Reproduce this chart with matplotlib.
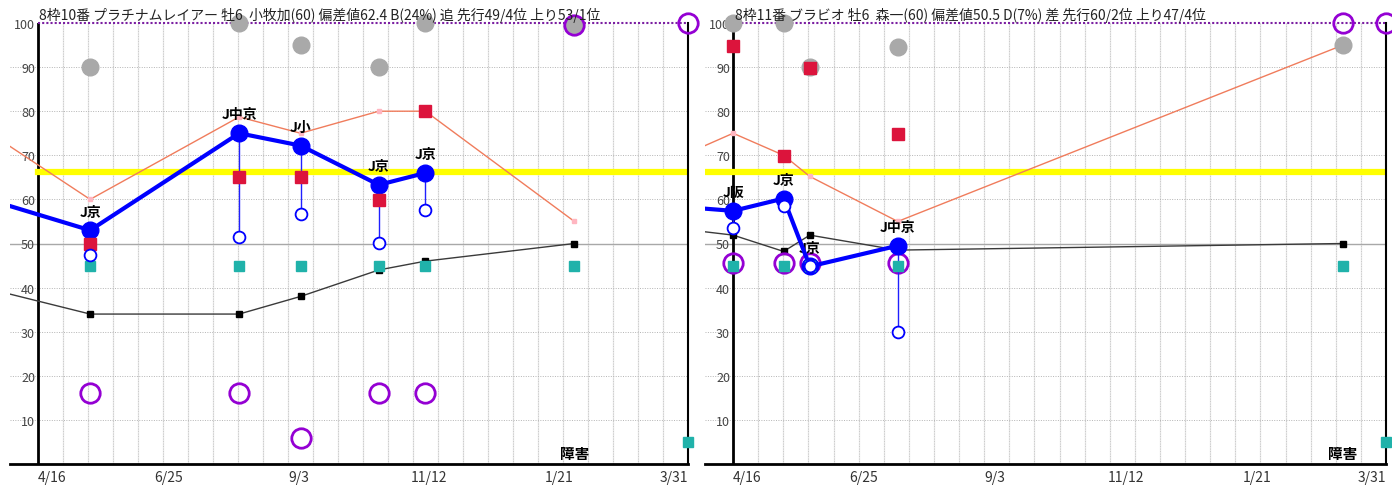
import numpy as np
import pandas as pd
import matplotlib
matplotlib.use('Agg')
import matplotlib.pyplot as plt

plt.rcParams['font.family'] = ['Noto Sans CJK JP', 'DejaVu Sans']

# axis range and ticks
start_date = '2022-04-16'
end_date = '2023-03-31'
tick_dates = ['2022-04-16', '2022-06-25', '2022-09-03', '2022-11-12', '2023-01-21', '2023-03-31']
tick_labels = ['4/16', '6/25', '9/3', '11/12', '1/21', '3/31']
y_ticks = [10, 20, 30, 40, 50, 60, 70, 80, 90, 100]
target_level = 66.3
rest_label = '障害'

# left horse
left_title = '8枠10番 プラチナムレイアー 牡6  小牧加(60) 偏差値62.4 B(24%) 追 先行49/4位 上り53/1位'
left_dates = ['2022-03-17', '2022-05-14', '2022-08-02', '2022-09-04', '2022-10-16',
              '2022-11-10', '2023-01-29', '2023-03-31']
left_course = ['', 'J京', 'J中京', 'J小', 'J京', 'J京', '', '']
left_index = [60.4, 53, 75, 72.2, 63.3, 66, np.nan, np.nan]
left_low = [np.nan, 47.5, 51.4, 56.6, 50.2, 57.5, np.nan, np.nan]
left_red = [np.nan, 50, 65, 65, 59.8, 80, np.nan, np.nan]
left_teal = [np.nan, 45, 45, 45, 45, 45, 45, 5]
left_black = [40.1, 34, 34, 38, 44, 46, 50, np.nan]
left_salmon = [76.2, 60, 78.7, 75, 80, 80, 55, np.nan]
left_purple = [np.nan, 16, 16, 6, 16, 16, 99.5, 100]
left_gray = [np.nan, 90, 100, 95, 90, 100, 99.5, np.nan]
left_rest = '2023-01-29'

# right horse
right_title = '8枠11番 ブラビオ 牡6  森一(60) 偏差値50.5 D(7%) 差 先行60/2位 上り47/4位'
right_dates = ['2022-03-17', '2022-04-16', '2022-05-13', '2022-05-27', '2022-07-13',
               '2023-03-08', '2023-03-31']
right_course = ['', 'J阪', 'J京', 'J京', 'J中京', '', '']
right_index = [58.4, 57.4, 60.2, 44.8, 49.5, np.nan, np.nan]
right_low = [np.nan, 53.6, 58.6, 45, 29.9, np.nan, np.nan]
right_red = [np.nan, 94.8, 69.9, 89.8, 74.9, np.nan, np.nan]
right_teal = [np.nan, 45, 45, 45, 45, 45, 5]
right_black = [53.4, 51.9, 48.2, 51.9, 48.5, 50, np.nan]
right_salmon = [69.4, 75, 70, 65.2, 55, 95, np.nan]
right_purple = [np.nan, 45.5, 45.5, 45.5, 45.5, 100, 100]
right_gray = [np.nan, 100, 100, 90, 94.6, 95, np.nan]
right_rest = '2023-03-08'

t0 = pd.Timestamp(start_date)
span = (pd.Timestamp(end_date) - t0).days
left_pad = span * 28 / 650


def to_days(dates):
    return np.array([(pd.Timestamp(d) - t0).days for d in dates], dtype=float)


def draw_panel(ax, title, dates, course, index, low, red, teal, black, salmon, purple, gray, rest,
               yellow_from=0.0):
    x = to_days(dates)
    index = np.array(index, dtype=float)
    low = np.array(low, dtype=float)

    ax.set_xlim(-left_pad, span)
    ax.set_ylim(0, 100)

    # grid
    for gx in np.arange(1, 26) * span / 26:
        ax.axvline(gx, color='#e6e6e6', lw=0.9, zorder=0)
        ax.axvline(gx, color='#c2c2c2', lw=0.6, ls=(0, (1, 2)), zorder=0)
    for gy in y_ticks[:-1]:
        if gy == 50:
            ax.axhline(gy, color='#a8a8a8', lw=1.0, zorder=0)
        else:
            ax.axhline(gy, color='#b4b4b4', lw=0.7, ls=(0, (1, 1.5)), zorder=0)

    # frame
    for s in ['left', 'top']:
        ax.spines[s].set_visible(False)
    ax.spines['bottom'].set_linewidth(2)
    ax.spines['right'].set_linewidth(1.5)
    ax.axvline(0, color='black', lw=2, zorder=1)
    ax.plot([0, span], [100, 100], color='#7b1fa2', lw=1.5, ls=(0, (1, 1)), zorder=1, clip_on=False)

    ax.plot([yellow_from, span], [target_level] * 2, color='#ffff00', lw=4.5, zorder=1)

    # lines
    ok = ~np.isnan(np.array(salmon, dtype=float))
    ax.plot(x[ok], np.array(salmon)[ok], color='#f07c5c', lw=1, zorder=2)
    ax.plot(x[1:][ok[1:]], np.array(salmon)[1:][ok[1:]], 's', color='#ffb6c1', ms=3, zorder=2)
    ok = ~np.isnan(np.array(black, dtype=float))
    ax.plot(x[ok], np.array(black)[ok], color='#3a3a3a', lw=1, zorder=2)
    ax.plot(x[1:][ok[1:]], np.array(black)[1:][ok[1:]], 's', color='black', ms=4, zorder=2)

    # markers
    ax.plot(x, gray, 'o', color='#a9a9a9', ms=12, zorder=2, clip_on=False)
    ax.plot(x, purple, 'o', mfc='none', mec='#9400d3', mew=2, ms=14, zorder=3, clip_on=False)
    ax.plot(x, teal, 's', color='#20b2aa', ms=7, zorder=6, clip_on=False)
    ax.plot(x, red, 's', color='#dc143c', ms=8, zorder=5, clip_on=False)

    # index line, stems and lows
    for xi, hi, lo in zip(x, index, low):
        if not np.isnan(hi) and not np.isnan(lo):
            ax.plot([xi, xi], [hi, lo], color='#2020ff', lw=1, zorder=4)
    ax.plot(x, low, 'o', mfc='white', mec='#0000ff', mew=1.3, ms=8.5, zorder=6)
    ok = ~np.isnan(index)
    ax.plot(x[ok], index[ok], color='#0000ff', lw=3, zorder=4)
    ax.plot(x[1:][ok[1:]], index[1:][ok[1:]], 'o', color='#0000ff', ms=12, zorder=4)

    for xi, yi, c in zip(x, index, course):
        if c:
            ax.annotate(c, (xi, yi), xytext=(0, 13.5), textcoords='offset points',
                        ha='center', va='center', fontsize=10, fontweight='bold', zorder=3)

    ax.text(to_days([rest])[0], 0.6, rest_label, ha='center', va='bottom',
            fontsize=10.5, fontweight='bold')

    # ticks
    ax.set_yticks(y_ticks)
    ax.set_yticklabels([str(v) for v in y_ticks])
    ax.tick_params(axis='y', length=0, pad=-18, labelsize=9, labelcolor='#444444')
    ax.set_xticks(to_days(tick_dates))
    ax.set_xticklabels(tick_labels)
    ax.tick_params(axis='x', length=0, pad=4, labelsize=10, labelcolor='#333333')
    ax.get_xticklabels()[-1].set_ha('right')
    ax.get_xticklabels()[0].set_ha('left')

    ax.annotate(title, (0, 1), xycoords=('data', 'axes fraction'), xytext=(1, 0.5),
                textcoords='offset points', ha='left', va='bottom', fontsize=10, color='#222222')


fig = plt.figure(figsize=(13.92, 4.89), dpi=100)
W, H = 1392, 489
ax1 = fig.add_axes([10 / W, 24 / H, 678 / W, 441 / H])
ax2 = fig.add_axes([705 / W, 24 / H, 681 / W, 441 / H])
ax1.set_zorder(2)

draw_panel(ax1, left_title, left_dates, left_course, left_index, left_low, left_red, left_teal,
           left_black, left_salmon, left_purple, left_gray, left_rest)
draw_panel(ax2, right_title, right_dates, right_course, right_index, right_low, right_red, right_teal,
           right_black, right_salmon, right_purple, right_gray, right_rest, yellow_from=-left_pad)

fig.savefig('out.png', dpi=100)
